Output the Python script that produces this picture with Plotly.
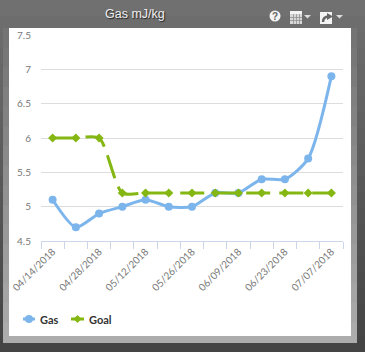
import plotly.graph_objects as go

dates = ["04/14/2018","04/21/2018","04/28/2018","05/05/2018","05/12/2018","05/19/2018","05/26/2018",
         "06/02/2018","06/09/2018","06/16/2018","06/23/2018","06/30/2018","07/07/2018"]
gas = [5.1,4.7,4.9,5.0,5.1,5.0,5.0,5.2,5.2,5.4,5.4,5.7,6.9]
goal = [6,6,6,5.2,5.2,5.2,5.2,5.2,5.2,5.2,5.2,5.2,5.2]
y_ticks = [4.5,5,5.5,6,6.5,7,7.5]
y_labels = ["4.5","5","5.5","6","6.5","7","7.5"]
tick_labels = [d if i % 2 == 0 else "" for i, d in enumerate(dates)]
GAS_COLOR = "#7cb5ec"
GOAL_COLOR = "#85b713"

W, H = 365, 352
L, R, T, B = 41, 22, 35, 111
pw, ph = W - L - R, H - T - B
def px(x): return (x - L) / pw
def py(y): return 1 - (y - T) / ph

shapes = []
def rect(x0, y0, x1, y1, color, layer="below"):
    shapes.append(dict(type="rect", xref="paper", yref="paper", x0=px(x0), x1=px(x1), y0=py(y0), y1=py(y1),
                       fillcolor=color, line=dict(width=0), layer=layer))
def path(d, fill="rgba(0,0,0,0)", line=None):
    shapes.append(dict(type="path", xref="paper", yref="paper", layer="above", fillcolor=fill,
                       line=line or dict(width=0), path=d))
def poly(points, fill):
    path("M " + " L ".join(f"{px(x)} {py(y)}" for x, y in points) + " Z", fill=fill)

# page background: vertical grey gradient
n = 22
for i in range(n):
    t = i / (n - 1)
    c = int(112 - t * (112 - 68))
    rect(0, i * H / n, W, (i + 1) * H / n + 1, f"rgb({c},{c},{c})")
# frame bands around white panel
for i in range(16):
    t = i / 15
    c = int(116 + t * (172 - 116))
    y0 = 28 + i * (342 - 28) / 16
    rect(3, y0, 357, y0 + (342 - 28) / 16 + 1, f"rgb({c},{c},{c})")
rect(9, 28, 351, 336, "#ffffff")

# header icons: help, calendar, share
shapes.append(dict(type="circle", xref="paper", yref="paper", layer="above", fillcolor="#f4f4f4", line=dict(width=0),
    x0=px(269.5), x1=px(280.5), y0=py(10.5), y1=py(21.5)))
rect(290, 11, 302, 24, "#d8d8d8", layer="above")
rect(290, 11, 302, 14, "#f4f4f4", layer="above")
for gx in (293, 296, 299):
    rect(gx, 14, gx + 0.7, 24, "#8a8a8a", layer="above")
for gy in (17, 20):
    rect(290, gy, 302, gy + 0.7, "#8a8a8a", layer="above")
poly([(304, 15), (311, 15), (307.5, 18.5)], "#dddddd")
rect(320, 12, 332, 24, "#f4f4f4", layer="above")
path(f"M {px(323)} {py(22)} Q {px(323)} {py(16.5)} {px(329)} {py(16.5)}", line=dict(width=2.5, color="#666666"))
poly([(327, 13), (333, 16.5), (327, 20)], "#666666")
poly([(336, 15), (343, 15), (339.5, 18.5)], "#dddddd")

# legend glyphs
LEG_Y = 319
rect(23, LEG_Y - 1.5, 35, LEG_Y + 1.5, GAS_COLOR, layer="above")
shapes.append(dict(type="circle", xref="paper", yref="paper", layer="above", fillcolor=GAS_COLOR, line=dict(width=0),
    x0=px(25), x1=px(33), y0=py(LEG_Y - 4), y1=py(LEG_Y + 4)))
rect(71, LEG_Y - 1.5, 84, LEG_Y + 1.5, GOAL_COLOR, layer="above")
poly([(77.5, LEG_Y - 4), (81.5, LEG_Y), (77.5, LEG_Y + 4), (73.5, LEG_Y)], GOAL_COLOR)

def label(text, x, y, size, color, family="Lato", anchor="left", **font):
    return dict(text=text, xref="paper", yref="paper", x=px(x), y=py(y), showarrow=False,
                xanchor=anchor, yanchor="middle",
                font=dict(family=family, size=size, color=color, **font))

fig = go.Figure()
fig.add_trace(go.Scatter(x=dates, y=gas, name="Gas", mode="lines+markers",
    line=dict(color=GAS_COLOR, width=3, shape="spline", smoothing=0.7),
    marker=dict(symbol="circle", size=8, color=GAS_COLOR), cliponaxis=False))
fig.add_trace(go.Scatter(x=dates, y=goal, name="Goal", mode="lines+markers",
    line=dict(color=GOAL_COLOR, width=3, dash="24px,9px", shape="spline", smoothing=0.7),
    marker=dict(symbol="diamond", size=7, color=GOAL_COLOR), cliponaxis=False))

fig.update_layout(
    width=W, height=H, margin=dict(l=L, r=R, t=T, b=B, pad=0, autoexpand=False),
    paper_bgcolor="#555555", plot_bgcolor="rgba(0,0,0,0)",
    shapes=shapes, showlegend=False,
    annotations=[
        label("Gas mJ/kg", 135, 14, 12.5, "#f0f0f0", family="Liberation Sans", anchor="center",
              shadow="1px 1px 1px #222222"),
        label("<b>?</b>", 275, 16, 10, "#666666", family="Liberation Sans", anchor="center"),
        label("<b>Gas</b>", 38, LEG_Y, 11, "#333333"),
        label("<b>Goal</b>", 87, LEG_Y, 11, "#333333"),
    ],
    xaxis=dict(type="category", categoryorder="array", categoryarray=dates, range=[-0.5, 12.5],
               tickmode="array", tickvals=dates, ticktext=tick_labels, tickson="boundaries",
               tickangle=-45, ticks="outside", ticklen=7, tickcolor="#ccd6eb", tickwidth=1,
               showline=True, linecolor="#ccd6eb", linewidth=1, showgrid=False,
               tickfont=dict(family="Lato", size=10, color="#777777")),
    yaxis=dict(range=[4.5, 7.5], tickmode="array", tickvals=y_ticks, ticktext=y_labels,
               showgrid=True, gridcolor="#dddddd", gridwidth=1, zeroline=False, showline=False,
               ticks="", ticklabelstandoff=9,
               tickfont=dict(family="Lato", size=10, color="#777777")),
)
fig.write_html("out.html", post_script="document.body.style.margin='0';document.body.style.background='#555';",
               config=dict(displayModeBar=False))
